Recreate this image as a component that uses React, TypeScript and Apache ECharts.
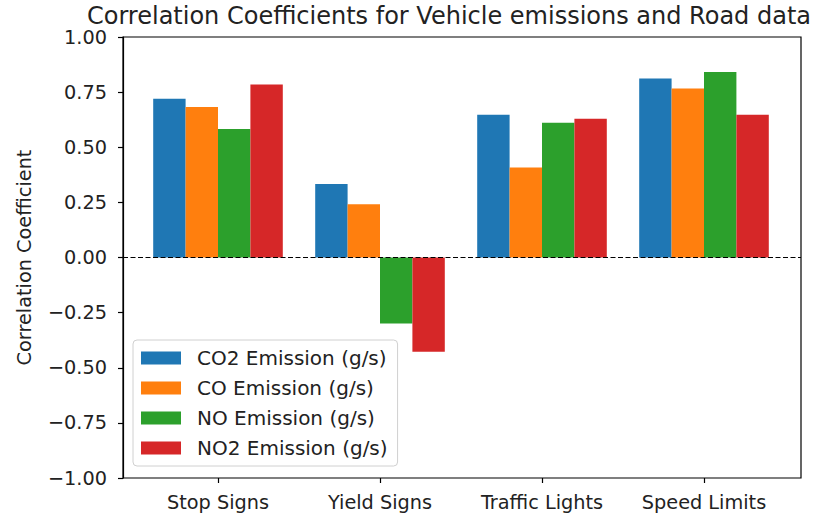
import React, { useEffect, useRef } from "react";
import * as echarts from "echarts";

const categories = ["Stop Signs", "Yield Signs", "Traffic Lights", "Speed Limits"];
const seriesNames = ["CO2 Emission (g/s)", "CO Emission (g/s)", "NO Emission (g/s)", "NO2 Emission (g/s)"];
const co2 = [0.72, 0.333, 0.647, 0.812];
const co = [0.683, 0.242, 0.408, 0.767];
const no = [0.583, -0.299, 0.611, 0.841];
const no2 = [0.785, -0.427, 0.629, 0.647];
const colors = ["#1f77b4", "#ff7f0e", "#2ca02c", "#d62728"];
const yTicks = { min: -1, max: 1, interval: 0.25 };

const FONT = "DejaVu Sans";
const TXT = "#222";
const FS = 19.3;

export default function App() {
  const ref = useRef<HTMLDivElement>(null);
  useEffect(() => {
    const chart = echarts.init(ref.current!, null, { renderer: "svg" });
    const values = [co2, co, no, no2];
    const fmt = (v: number) => (v < 0 ? "\u2212" + Math.abs(v).toFixed(2) : v.toFixed(2));
    chart.setOption({
      animation: false,
      backgroundColor: "#fff",
      textStyle: { fontFamily: FONT },
      title: {
        text: "Correlation Coefficients for Vehicle emissions and Road data",
        left: 449,
        top: 4,
        padding: 0,
        textAlign: "center",
        textStyle: { fontFamily: FONT, fontSize: 24, lineHeight: 24, fontWeight: "normal", color: TXT },
      },
      legend: {
        data: seriesNames,
        orient: "vertical",
        left: 133,
        top: 340,
        itemWidth: 40,
        itemHeight: 13,
        itemGap: 10,
        padding: [8, 10, 8, 8],
        icon: "rect",
        backgroundColor: "rgba(255,255,255,0.8)",
        borderColor: "#d0d0d0",
        borderWidth: 1,
        borderRadius: 4,
        textStyle: { fontFamily: FONT, fontSize: 20, color: TXT, padding: [0, 0, 0, 11] },
      },
      grid: [
        { left: 123, right: 28, top: 37, bottom: 36, show: true, borderColor: "#000", borderWidth: 1.2, backgroundColor: "transparent" },
        { left: 137, right: 44, top: 37, bottom: 36 },
      ],
      xAxis: [
        { type: "value", gridIndex: 0, min: 0, max: 1, show: false },
        {
          type: "category",
          gridIndex: 1,
          data: categories,
          axisLine: { show: false, onZero: false },
          axisTick: { show: true, alignWithLabel: true, length: 5, lineStyle: { color: "#000", width: 1.2 } },
          axisLabel: { fontFamily: FONT, fontSize: FS, color: TXT, margin: 15, interval: 0 },
        },
      ],
      yAxis: [
        {
          type: "value",
          gridIndex: 0,
          min: yTicks.min,
          max: yTicks.max,
          interval: yTicks.interval,
          axisLine: { show: true, lineStyle: { color: "#000", width: 1.2 } },
          axisTick: { show: true, length: 5, lineStyle: { color: "#000", width: 1.2 } },
          axisLabel: { fontFamily: FONT, fontSize: FS, lineHeight: 18, color: TXT, margin: 16, formatter: fmt },
          splitLine: { show: false },
          name: "Correlation Coefficient",
          nameLocation: "middle",
          nameGap: 89,
          nameTextStyle: { fontFamily: FONT, fontSize: FS, color: TXT },
        },
        { type: "value", gridIndex: 1, min: yTicks.min, max: yTicks.max, show: false },
      ],
      series: [
        ...seriesNames.map((name, i) => ({
          name,
          type: "bar",
          xAxisIndex: 1,
          yAxisIndex: 1,
          data: values[i],
          barWidth: "20%",
          barGap: "0%",
          itemStyle: { color: colors[i] },
        })),
        {
          name: "zero",
          type: "line",
          xAxisIndex: 0,
          yAxisIndex: 0,
          data: [[0, 0], [1, 0]],
          symbol: "none",
          silent: true,
          lineStyle: { color: "#000", width: 1.2, type: [5, 2.5] },
          z: 5,
        },
      ],
    });
    return () => chart.dispose();
  }, []);
  return <div ref={ref} style={{ position: "fixed", left: 0, top: 0, width: 829, height: 514 }} />;
}
